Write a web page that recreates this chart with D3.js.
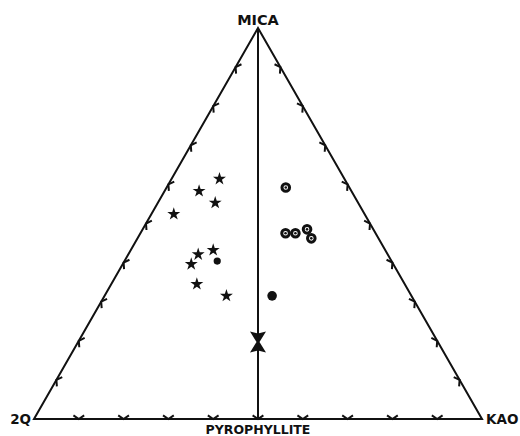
<!DOCTYPE html>
<html>
<head>
<meta charset="utf-8">
<script src="https://cdn.jsdelivr.net/npm/d3@7"></script>
<style>
  html, body { margin: 0; padding: 0; background: #fff; }
  svg { display: block; }
  text { font-family: "DejaVu Sans", sans-serif; font-weight: bold; fill: #111; }
</style>
</head>
<body>
<div id="chart"></div>
<script>
// ternary data: [mica, quartz(2Q), kaolinite]
const starPts = [
  [0.614, 0.279, 0.107], [0.583, 0.340, 0.077], [0.553, 0.319, 0.128],
  [0.524, 0.426, 0.050], [0.432, 0.384, 0.184], [0.421, 0.423, 0.156],
  [0.396, 0.451, 0.153], [0.345, 0.464, 0.191], [0.315, 0.413, 0.272]
];
const smallDotPts = [[0.404, 0.389, 0.207]];
const circledPts = [
  [0.592, 0.142, 0.266], [0.475, 0.201, 0.324], [0.475, 0.179, 0.346],
  [0.485, 0.148, 0.367], [0.462, 0.150, 0.388]
];
const filledPts = [[0.315, 0.311, 0.374]];
const hourglassPts = [[0.197, 0.4015, 0.4015]];
const tickVals = [0.1, 0.2, 0.3, 0.4, 0.5, 0.6, 0.7, 0.8, 0.9];
const cornerLabels = { top: 'MICA', left: '2Q', right: 'KAO', bottom: 'PYROPHYLLITE' };

(function(){
  const W = 520, H = 436;
  const svg = d3.select('#chart').append('svg').attr('width', W).attr('height', H);

  // u = horizontal position along base, v = mica fraction
  const xScale = d3.scaleLinear().domain([0, 1]).range([34, 482]);
  const yScale = d3.scaleLinear().domain([0, 1]).range([419, 28]);
  const pos = d => [xScale(d[2] + d[0] / 2), yScale(d[0])];

  const A = pos([1, 0, 0]), L = pos([0, 1, 0]), R = pos([0, 0, 1]);
  const line = d3.line();

  // triangle
  svg.append('path').attr('d', line([A, L, R]) + 'Z')
    .attr('fill', 'none').attr('stroke', '#111').attr('stroke-width', 2).attr('stroke-linejoin', 'miter');

  // mica -> pyrophyllite join
  const P = pos([0, 0.5, 0.5]);
  svg.append('path').attr('d', line([A, P]))
    .attr('stroke', '#111').attr('stroke-width', 2);

  // chevron ticks, vertex on side, pointing outward
  function chevron(p, n, len, ang){
    // n = outward unit normal; arms go inward
    const a = [];
    [-ang, ang].forEach(t => {
      const c = Math.cos(t), s = Math.sin(t);
      const dx = -(n[0]*c - n[1]*s), dy = -(n[0]*s + n[1]*c);
      a.push([p[0] + dx*len, p[1] + dy*len]);
    });
    return line([a[0], p, a[1]]);
  }
  const sides = [
    { from: L, to: R, n: [0, 1] },
    { from: L, to: A, n: [-Math.sqrt(3)/2, -0.5] },
    { from: R, to: A, n: [Math.sqrt(3)/2, -0.5] }
  ];
  const ticks = [];
  sides.forEach(s => tickVals.forEach(t => {
    ticks.push({ p: [s.from[0] + (s.to[0]-s.from[0])*t, s.from[1] + (s.to[1]-s.from[1])*t], n: s.n });
  }));
  svg.append('g').selectAll('path').data(ticks).join('path')
    .attr('d', d => chevron(d.p, d.n, 6.5, Math.PI * 0.31))
    .attr('fill', 'none').attr('stroke', '#111').attr('stroke-width', 2)
    .attr('stroke-linejoin', 'miter');

  // stars
  svg.append('g').selectAll('path').data(starPts).join('path')
    .attr('transform', d => `translate(${pos(d)})`)
    .attr('d', d3.symbol(d3.symbolStar, 52))
    .attr('fill', '#111');

  svg.append('g').selectAll('circle').data(smallDotPts).join('circle')
    .attr('cx', d => pos(d)[0]).attr('cy', d => pos(d)[1]).attr('r', 3.6).attr('fill', '#111');

  // circled dots
  const cg = svg.append('g').selectAll('g').data(circledPts).join('g')
    .attr('transform', d => `translate(${pos(d)})`);
  cg.append('circle').attr('r', 3.8).attr('fill', '#fff').attr('stroke', '#111').attr('stroke-width', 3);
  cg.append('circle').attr('r', 1.3).attr('fill', '#111');

  svg.append('g').selectAll('circle').data(filledPts).join('circle')
    .attr('cx', d => pos(d)[0]).attr('cy', d => pos(d)[1]).attr('r', 4.8).attr('fill', '#111');

  // hourglass
  svg.append('g').selectAll('path').data(hourglassPts).join('path')
    .attr('transform', d => `translate(${pos(d)})`)
    .attr('d', 'M-8,-10.5L0,-8.5L8,-10.5L1.5,0L8,10.5L0,8.5L-8,10.5L-1.5,0Z')
    .attr('fill', '#111');

  // labels
  svg.append('text').attr('x', A[0]).attr('y', 25).attr('text-anchor', 'middle').style('font-size', '14.5px').text(cornerLabels.top);
  svg.append('text').attr('x', 31).attr('y', 424).attr('text-anchor', 'end').style('font-size', '13.5px').text(cornerLabels.left);
  svg.append('text').attr('x', 486).attr('y', 424).attr('text-anchor', 'start').style('font-size', '13.5px').text(cornerLabels.right);
  svg.append('text').attr('x', P[0]).attr('y', 434).attr('text-anchor', 'middle').style('font-size', '12.5px').text(cornerLabels.bottom);
})();
</script>
</body>
</html>
